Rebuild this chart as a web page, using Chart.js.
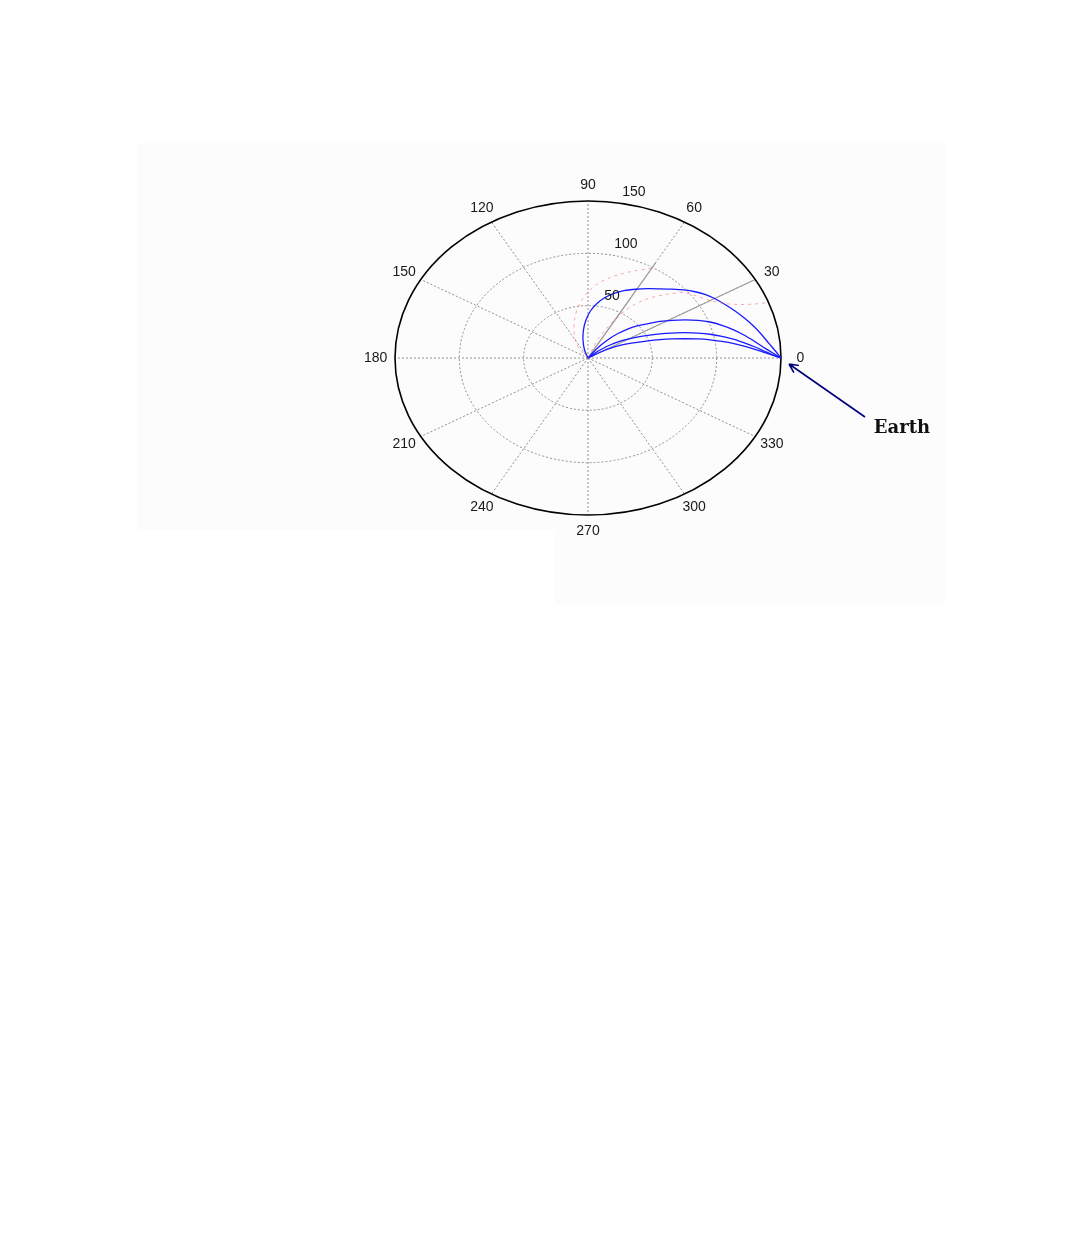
<!DOCTYPE html>
<html>
<head>
<meta charset="utf-8">
<title>Transfer trajectories - polar plot</title>
<script src="https://cdn.jsdelivr.net/npm/chart.js"></script>
<style>
    body { margin: 0; background: #ffffff; }
    #polarChart { display: block; }
</style>
</head>
<body>
<canvas id="polarChart" width="1080" height="1259"></canvas>
<script>
// polar grid: rings and spokes (degrees)
const ringValues = [50, 100, 150];
const ringLabels = ['50', '100', '150'];
const angleTicks = [0, 30, 60, 90, 120, 150, 180, 210, 240, 270, 300, 330];
const angleLabels = ['0', '30', '60', '90', '120', '150', '180', '210', '240', '270', '300', '330'];

// trajectories, in plot units (x = r cos t, y = r sin t)
const blue1X = [0, -2.7, -3.9, -3.5, -1.6, 1.9, 7.0, 13.2, 20.2, 28.0, 37.3, 46.6, 56.0, 65.3, 74.6, 83.2, 90.9, 98.7, 106.5, 114.3, 122.0, 129.0, 135.2, 140.6, 145.3, 150];
const blue1Y = [0, 7.6, 17.2, 26.8, 36.3, 44.9, 52.1, 57.8, 61.8, 64.4, 65.7, 66.2, 66.1, 65.8, 65.0, 63.3, 60.7, 56.6, 51.1, 44.9, 37.7, 30.1, 22.0, 13.9, 7.2, 0];

const blue2X = [0, 4.7, 10.1, 16.3, 23.3, 30.3, 38.1, 46.6, 56.0, 65.3, 75.4, 85.5, 94.8, 104.1, 112.7, 121.2, 129.0, 136.0, 143.0, 150];
const blue2Y = [0, 6.2, 12.4, 18.2, 23.4, 27.4, 30.6, 32.8, 34.9, 36.0, 36.4, 36.0, 34.4, 31.2, 27.2, 22.0, 16.2, 10.5, 5.3, 0];

const blue3X = [0, 5.4, 10.9, 17.1, 23.3, 30.3, 38.1, 46.6, 56.0, 65.3, 75.4, 85.5, 94.8, 104.1, 113.5, 122.0, 129.8, 136.8, 143.0, 150];
const blue3Y = [0, 4.8, 8.6, 12.4, 15.3, 17.7, 19.9, 21.7, 23.0, 23.8, 24.2, 23.8, 22.7, 20.7, 17.9, 14.3, 10.5, 6.7, 3.3, 0];

const blue4X = [0, 5.4, 10.9, 17.1, 23.3, 30.3, 38.1, 46.6, 56.0, 65.3, 75.4, 85.5, 94.8, 104.1, 113.5, 122.0, 129.8, 136.8, 143.0, 150];
const blue4Y = [0, 3.3, 6.2, 9.1, 11.5, 13.4, 15.0, 16.4, 17.5, 18.2, 18.4, 18.2, 17.4, 15.9, 13.8, 11.2, 8.3, 5.4, 2.9, 0];

const red1X = [0, -6.2, -9.7, -10.9, -10.5, -8.5, -4.7, 0.8, 7.8, 16.3, 25.6, 35.7, 45.1, 52.1];
const red1Y = [0, 7.6, 17.2, 26.8, 36.3, 45.9, 55.4, 64.0, 71.2, 76.4, 80.3, 83.1, 85.0, 86.5];

const red2X = [0, 3.9, 8.5, 14.0, 20.2, 27.2, 35.0, 43.5, 52.8, 62.9, 73.8, 84.7, 94.8, 105.7, 118.1, 129.8, 139.9];
const red2Y = [0, 9.6, 19.1, 27.7, 35.8, 43.5, 50.2, 55.4, 58.8, 61.1, 62.6, 59.2, 54.9, 52.1, 51.1, 51.6, 53.0];

// Earth position on the plot (angle 0, radius 150)
const earthX = 150;
const earthY = 0;

function toPoints(xs, ys) {
    return xs.map((x, i) => ({ x: x, y: ys[i] }));
}

function curve(xs, ys, color, width, dash) {
    return {
        data: toPoints(xs, ys),
        showLine: true,
        borderColor: color,
        borderWidth: width,
        borderDash: dash,
        pointRadius: 0,
        tension: 0.3,
        fill: false
    };
}

// draws the polar grid (ellipse because the axes are stretched)
const polarGrid = {
    id: 'polarGrid',
    beforeDraw(chart) {
        const ctx = chart.ctx;
        // faint scanned background
        ctx.save();
        ctx.fillStyle = '#fcfcfc';
        ctx.fillRect(137, 143, 808, 387);
        ctx.fillRect(555, 530, 390, 75);
        ctx.restore();
    },
    beforeDatasetsDraw(chart) {
        const { ctx, scales: { x, y } } = chart;
        const rMax = ringValues[ringValues.length - 1];
        const cx = x.getPixelForValue(0);
        const cy = y.getPixelForValue(0);
        const px = (r, deg) => x.getPixelForValue(r * Math.cos(deg * Math.PI / 180));
        const py = (r, deg) => y.getPixelForValue(r * Math.sin(deg * Math.PI / 180));

        ctx.save();
        // spokes, dotted
        ctx.strokeStyle = '#909090';
        ctx.lineWidth = 1;
        ctx.setLineDash([2, 2]);
        angleTicks.forEach(a => {
            ctx.beginPath();
            ctx.moveTo(cx, cy);
            ctx.lineTo(px(rMax, a), py(rMax, a));
            ctx.stroke();
        });
        // inner rings, dotted
        ringValues.slice(0, -1).forEach(r => {
            ctx.beginPath();
            ctx.ellipse(cx, cy, px(r, 0) - cx, cy - py(r, 90), 0, 0, 2 * Math.PI);
            ctx.stroke();
        });
        // the 30 and 60 degree lines look solid in the picture
        ctx.setLineDash([]);
        ctx.strokeStyle = '#a0a0a0';
        ctx.lineWidth = 1.3;
        ctx.beginPath();
        ctx.moveTo(cx, cy);
        ctx.lineTo(px(rMax, 30), py(rMax, 30));
        ctx.moveTo(cx, cy);
        ctx.lineTo(px(105, 60), py(105, 60));
        ctx.stroke();
        // outer ring, solid black
        ctx.strokeStyle = '#000000';
        ctx.lineWidth = 1.6;
        ctx.beginPath();
        ctx.ellipse(cx, cy, px(rMax, 0) - cx, cy - py(rMax, 90), 0, 0, 2 * Math.PI);
        ctx.stroke();
        ctx.restore();
    },
    afterDraw(chart) {
        const { ctx, scales: { x, y } } = chart;
        const px = (r, deg) => x.getPixelForValue(r * Math.cos(deg * Math.PI / 180));
        const py = (r, deg) => y.getPixelForValue(r * Math.sin(deg * Math.PI / 180));

        ctx.save();
        ctx.fillStyle = '#1a1a1a';
        ctx.font = '14px "Liberation Sans", Arial, sans-serif';
        ctx.textAlign = 'center';
        ctx.textBaseline = 'middle';
        // angle labels just outside the outer ring
        angleTicks.forEach((a, i) => {
            ctx.fillText(angleLabels[i], px(165, a), py(165, a));
        });
        // ring labels placed up near the 80 degree line
        const ringLabelPos = [[18.7, 59.2], [29.5, 108.9], [35.7, 158.6]];
        ringLabels.forEach((t, i) => {
            ctx.fillText(t, x.getPixelForValue(ringLabelPos[i][0]), y.getPixelForValue(ringLabelPos[i][1]));
        });

        // arrow pointing at Earth
        const ex = x.getPixelForValue(earthX);
        const ey = y.getPixelForValue(earthY);
        const tipX = ex + 8, tipY = ey + 6;
        const tailX = ex + 84, tailY = ey + 59;
        ctx.strokeStyle = '#00007a';
        ctx.lineWidth = 1.6;
        ctx.beginPath();
        ctx.moveTo(tailX, tailY);
        ctx.lineTo(tipX, tipY);
        const ang = Math.atan2(tipY - tailY, tipX - tailX);
        ctx.moveTo(tipX, tipY);
        ctx.lineTo(tipX - 10 * Math.cos(ang - 0.45), tipY - 10 * Math.sin(ang - 0.45));
        ctx.moveTo(tipX, tipY);
        ctx.lineTo(tipX - 10 * Math.cos(ang + 0.45), tipY - 10 * Math.sin(ang + 0.45));
        ctx.stroke();

        ctx.fillStyle = '#111111';
        ctx.font = 'bold 18px "DejaVu Serif", serif';
        ctx.textBaseline = 'alphabetic';
        ctx.fillText('Earth', ex + 121, ey + 75);
        ctx.restore();
    }
};

const ctx = document.getElementById('polarChart').getContext('2d');
new Chart(ctx, {
    type: 'scatter',
    data: {
        datasets: [
            curve(red1X, red1Y, 'rgba(255, 40, 40, 0.4)', 1, [3, 4]),
            curve(red2X, red2Y, 'rgba(255, 40, 40, 0.4)', 1, [3, 4]),
            curve(blue1X, blue1Y, '#1a1aff', 1.3, []),
            curve(blue2X, blue2Y, '#1a1aff', 1.3, []),
            curve(blue3X, blue3Y, '#1a1aff', 1.3, []),
            curve(blue4X, blue4Y, '#1a1aff', 1.3, [])
        ]
    },
    options: {
        responsive: false,
        devicePixelRatio: 1,
        animation: false,
        layout: { padding: { left: 395, right: 299, top: 201, bottom: 744 } },
        plugins: {
            legend: { display: false },
            tooltip: { enabled: false }
        },
        scales: {
            x: { type: 'linear', min: -150, max: 150, display: false },
            y: { type: 'linear', min: -150, max: 150, display: false }
        }
    },
    plugins: [polarGrid]
});
</script>
</body>
</html>
